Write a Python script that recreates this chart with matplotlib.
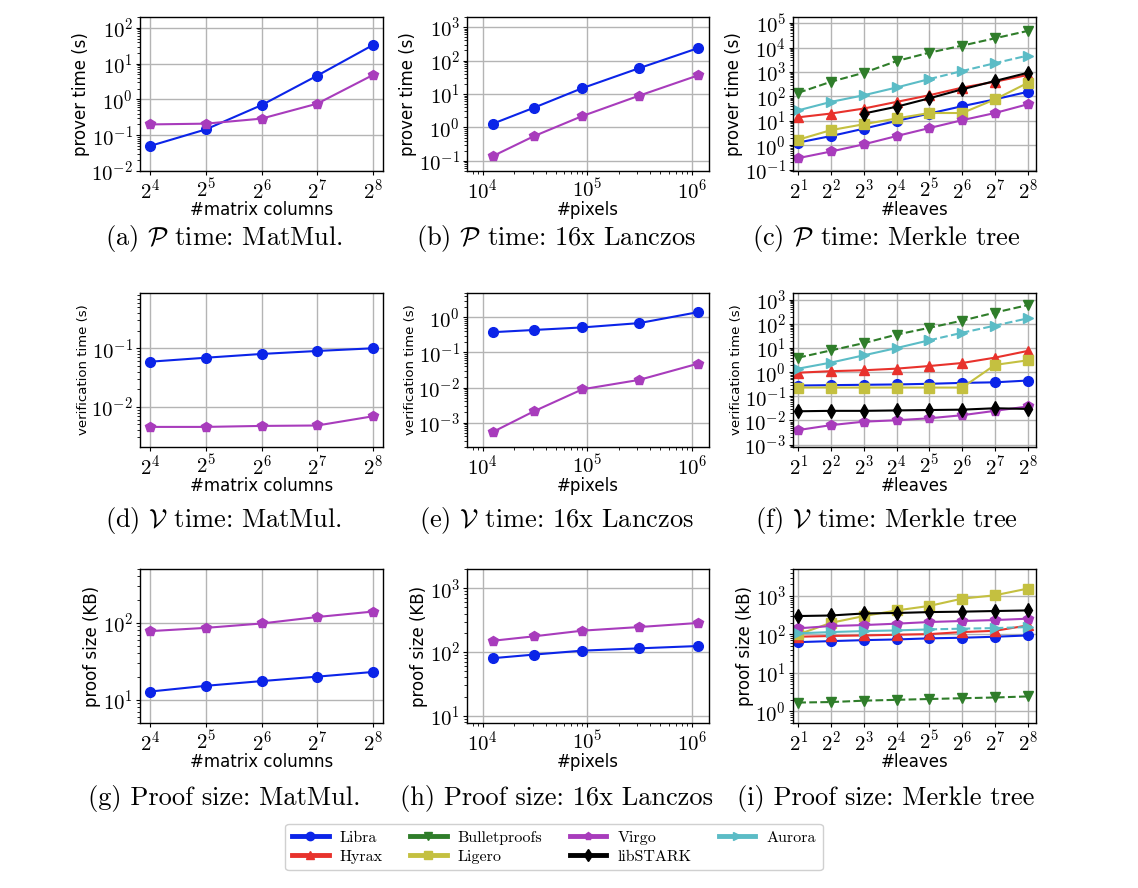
import numpy as np
import matplotlib
matplotlib.use("Agg")
import matplotlib.pyplot as plt
from matplotlib.lines import Line2D
from matplotlib.ticker import FuncFormatter, LogLocator, NullFormatter, FixedLocator

plt.rcParams['mathtext.fontset'] = 'cm'
plt.rcParams['font.family'] = 'DejaVu Sans'
plt.rcParams['axes.unicode_minus'] = False

nan = np.nan

# x values
matrix_cols = [16, 32, 64, 128, 256]
pixels = [12544, 30976, 90000, 313600, 1149184]
leaves = [2, 4, 8, 16, 32, 64, 128, 256]

# (a) prover time, MatMul
a_libra = [0.05, 0.145, 0.69, 4.6, 33]
a_virgo = [0.2, 0.21, 0.29, 0.76, 4.8]
# (b) prover time, Lanczos
b_libra = [1.3, 3.9, 15, 59, 235]
b_virgo = [0.14, 0.55, 2.2, 8.9, 36]
# (c) prover time, Merkle tree
c_libra = [1.3, 2.4, 4.8, 10, 20, 40, 76, 155]
c_hyrax = [14, 20, 32, 60, 112, 230, 400, 760]
c_bullet = [141, 400, 930, 2800, 6200, 12000, 24000, 48000]
c_ligero = [1.7, 4.2, 7.3, 12.6, 21, 21, 76, 360]
c_virgo = [0.3, 0.56, 1.1, 2.4, 5.1, 10.7, 21, 48]
c_stark = [nan, nan, 20, 38, 84, 196, 430, 930]
c_aurora = [27, 60, 112, 233, 515, 1100, 2300, 4700]
# (d) verification time, MatMul
d_libra = [0.059, 0.069, 0.08, 0.09, 0.1]
d_virgo = [0.00454, 0.00454, 0.00472, 0.0048, 0.0069]
# (e) verification time, Lanczos
e_libra = [0.38, 0.44, 0.52, 0.69, 1.42]
e_virgo = [0.00054, 0.0021, 0.0089, 0.0165, 0.048]
# (f) verification time, Merkle tree
f_libra = [0.28, 0.29, 0.3, 0.31, 0.33, 0.36, 0.38, 0.45]
f_hyrax = [0.95, 1.1, 1.2, 1.4, 1.8, 2.4, 4.0, 7.6]
f_bullet = [4, 8, 16, 36, 69, 137, 295, 600]
f_ligero = [0.23, 0.23, 0.23, 0.23, 0.23, 0.23, 2.0, 3.1]
f_virgo = [0.004, 0.0064, 0.0089, 0.0102, 0.0123, 0.0165, 0.025, 0.038]
f_stark = [0.024, 0.025, 0.025, 0.026, 0.027, 0.028, 0.032, 0.03]
f_aurora = [1.4, 2.5, 5, 10, 21, 43, 85, 170]
# (g) proof size, MatMul
g_libra = [12.8, 15.2, 17.5, 20, 23]
g_virgo = [78, 86, 98, 119, 140]
# (h) proof size, Lanczos
h_libra = [80, 91, 105, 114, 124]
h_virgo = [150, 176, 216, 246, 285]
# (i) proof size, Merkle tree
i_libra = [63, 67, 71, 74, 79, 82, 87, 94]
i_hyrax = [87, 91, 94, 98, 102, 115, 124, 171]
i_bullet = [1.7, 1.75, 1.9, 2.0, 2.1, 2.2, 2.3, 2.45]
i_ligero = [100, 200, 300, 420, 550, 850, 1040, 1550]
i_virgo = [144, 165, 175, 190, 210, 223, 236, 256]
i_stark = [300, 310, 350, 360, 380, 390, 405, 420]
i_aurora = [107, 115, 122, 127, 135, 141, 146, 155]

names = ['Libra', 'Hyrax', 'Bulletproofs', 'Ligero', 'Virgo', 'libSTARK', 'Aurora']
colors = {'Libra': '#0b24e8', 'Hyrax': '#e8322c', 'Bulletproofs': '#2f7d2a',
          'Ligero': '#c4c040', 'Virgo': '#a83cbc', 'libSTARK': '#000000',
          'Aurora': '#5bbcc6'}
markers = {'Libra': 'o', 'Hyrax': '^', 'Bulletproofs': 'v', 'Ligero': 's',
           'Virgo': 'p', 'libSTARK': 'd', 'Aurora': '>'}
dashed = {'Bulletproofs'}

fig = plt.figure(figsize=(11.38, 8.88), dpi=100)
W, H = 1138.0, 888.0
cols_px = [(140, 383), (467, 709), (793, 1036)]
rows_px = [(17, 171), (293, 447), (569, 723)]


def make_ax(r, c):
    l, rr = cols_px[c]
    t, b = rows_px[r]
    return fig.add_axes([l / W, 1 - b / H, (rr - l) / W, (b - t) / H])


def draw(ax, x, name, y):
    col = colors[name]
    kw = dict(color=col, marker=markers[name], markersize=7, lw=1.5)
    if name == 'Aurora':
        ax.plot(x[:5], y[:5], ls='-', **kw)
        ax.plot(x[4:], y[4:], ls='--', **kw)
    else:
        ax.plot(x, y, ls='--' if name in dashed else '-', **kw)


def style(ax, xbase, xticks, xlim, ylim, xlabel, ylabel, ysize):
    ax.set_xscale('log', base=xbase)
    ax.set_yscale('log')
    ax.set_xlim(*xlim)
    ax.set_ylim(*ylim)
    ax.xaxis.set_major_locator(FixedLocator(xticks))
    ax.xaxis.set_major_formatter(FuncFormatter(
        lambda v, p: r'$\mathrm{%d^{%d}}$' % (xbase, round(np.log(v) / np.log(xbase)))))
    ax.xaxis.set_minor_formatter(NullFormatter())
    if xbase == 2:
        ax.xaxis.set_minor_locator(FixedLocator([]))
    ax.yaxis.set_major_locator(LogLocator(base=10, numticks=20))
    ax.yaxis.set_minor_locator(LogLocator(base=10, subs=np.arange(2, 10), numticks=20))
    ax.yaxis.set_major_formatter(FuncFormatter(
        lambda v, p: r'$\mathrm{10^{%d}}$' % round(np.log10(v))))
    ax.yaxis.set_minor_formatter(NullFormatter())
    ax.tick_params(axis='both', which='major', labelsize=15, length=3, pad=2)
    ax.tick_params(axis='both', which='minor', length=2)
    ax.grid(True, which='major', color='#b4b4b4', lw=1.0)
    ax.set_axisbelow(True)
    for s in ax.spines.values():
        s.set_color('black')
        s.set_linewidth(1.0)
    ax.set_xlabel(xlabel, fontsize=12, labelpad=-1)
    ax.set_ylabel(ylabel, fontsize=ysize, labelpad=1)


xl_mat = (2 ** 3.82, 2 ** 8.18)
xl_pix = (10 ** 3.85, 10 ** 6.165)
xl_leaf = (2 ** 0.84, 2 ** 8.25)

# row 1: prover time
ax = make_ax(0, 0)
draw(ax, matrix_cols, 'Libra', a_libra)
draw(ax, matrix_cols, 'Virgo', a_virgo)
style(ax, 2, matrix_cols, xl_mat, (1e-2, 2e2), '#matrix columns', 'prover time (s)', 12)

ax = make_ax(0, 1)
draw(ax, pixels, 'Libra', b_libra)
draw(ax, pixels, 'Virgo', b_virgo)
style(ax, 10, [1e4, 1e5, 1e6], xl_pix, (0.05, 2000), '#pixels', 'prover time (s)', 12)

ax = make_ax(0, 2)
for n, y in zip(names, [c_libra, c_hyrax, c_bullet, c_ligero, c_virgo, c_stark, c_aurora]):
    draw(ax, leaves, n, y)
style(ax, 2, leaves, xl_leaf, (10 ** -1.05, 10 ** 5.25), '#leaves', 'prover time (s)', 12)

# row 2: verification time
ax = make_ax(1, 0)
draw(ax, matrix_cols, 'Libra', d_libra)
draw(ax, matrix_cols, 'Virgo', d_virgo)
style(ax, 2, matrix_cols, xl_mat, (0.00206, 0.88), '#matrix columns', 'verification time (s)', 9.5)

ax = make_ax(1, 1)
draw(ax, pixels, 'Libra', e_libra)
draw(ax, pixels, 'Virgo', e_virgo)
style(ax, 10, [1e4, 1e5, 1e6], xl_pix, (2e-4, 5), '#pixels', 'verification time (s)', 9.5)

ax = make_ax(1, 2)
for n, y in zip(names, [f_libra, f_hyrax, f_bullet, f_ligero, f_virgo, f_stark, f_aurora]):
    draw(ax, leaves, n, y)
style(ax, 2, leaves, xl_leaf, (10 ** -3.1, 10 ** 3.28), '#leaves', 'verification time (s)', 9.5)

# row 3: proof size
ax = make_ax(2, 0)
draw(ax, matrix_cols, 'Libra', g_libra)
draw(ax, matrix_cols, 'Virgo', g_virgo)
style(ax, 2, matrix_cols, xl_mat, (5, 500), '#matrix columns', 'proof size (KB)', 12)

ax = make_ax(2, 1)
draw(ax, pixels, 'Libra', h_libra)
draw(ax, pixels, 'Virgo', h_virgo)
style(ax, 10, [1e4, 1e5, 1e6], xl_pix, (7.7, 2000), '#pixels', 'proof size (KB)', 12)

ax = make_ax(2, 2)
for n, y in zip(names, [i_libra, i_hyrax, i_bullet, i_ligero, i_virgo, i_stark, i_aurora]):
    draw(ax, leaves, n, y)
style(ax, 2, leaves, xl_leaf, (0.5, 5000), '#leaves', 'proof size (kB)', 12)

# captions
captions = [
    [r'(a) $\mathcal{P}$ time: MatMul.', r'(b) $\mathcal{P}$ time: 16x Lanczos', r'(c) $\mathcal{P}$ time: Merkle tree'],
    [r'(d) $\mathcal{V}$ time: MatMul.', r'(e) $\mathcal{V}$ time: 16x Lanczos', r'(f) $\mathcal{V}$ time: Merkle tree'],
    ['(g) Proof size: MatMul.', '(h) Proof size: 16x Lanczos', '(i) Proof size: Merkle tree'],
]
cap_x = [224, 556, 886]
cap_y = [238, 521, 798]
for r in range(3):
    for c in range(3):
        fig.text(cap_x[c] / W, 1 - cap_y[r] / H, captions[r][c], ha='center', va='center',
                 family='cmr10', fontsize=19)

# legend
handles = [Line2D([], [], color=colors[n], marker=markers[n], lw=3.5, markersize=6) for n in names]
fig.legend(handles, names, loc='center', bbox_to_anchor=(554 / W, 1 - 847 / H), ncol=4,
           prop={'family': 'cmr10', 'size': 11.5}, handlelength=2.3, columnspacing=1.7,
           labelspacing=0.3, handletextpad=0.7, fancybox=True, framealpha=1.0,
           edgecolor='#d0d0d0', borderpad=0.4)

fig.savefig('out.png', dpi=100)
